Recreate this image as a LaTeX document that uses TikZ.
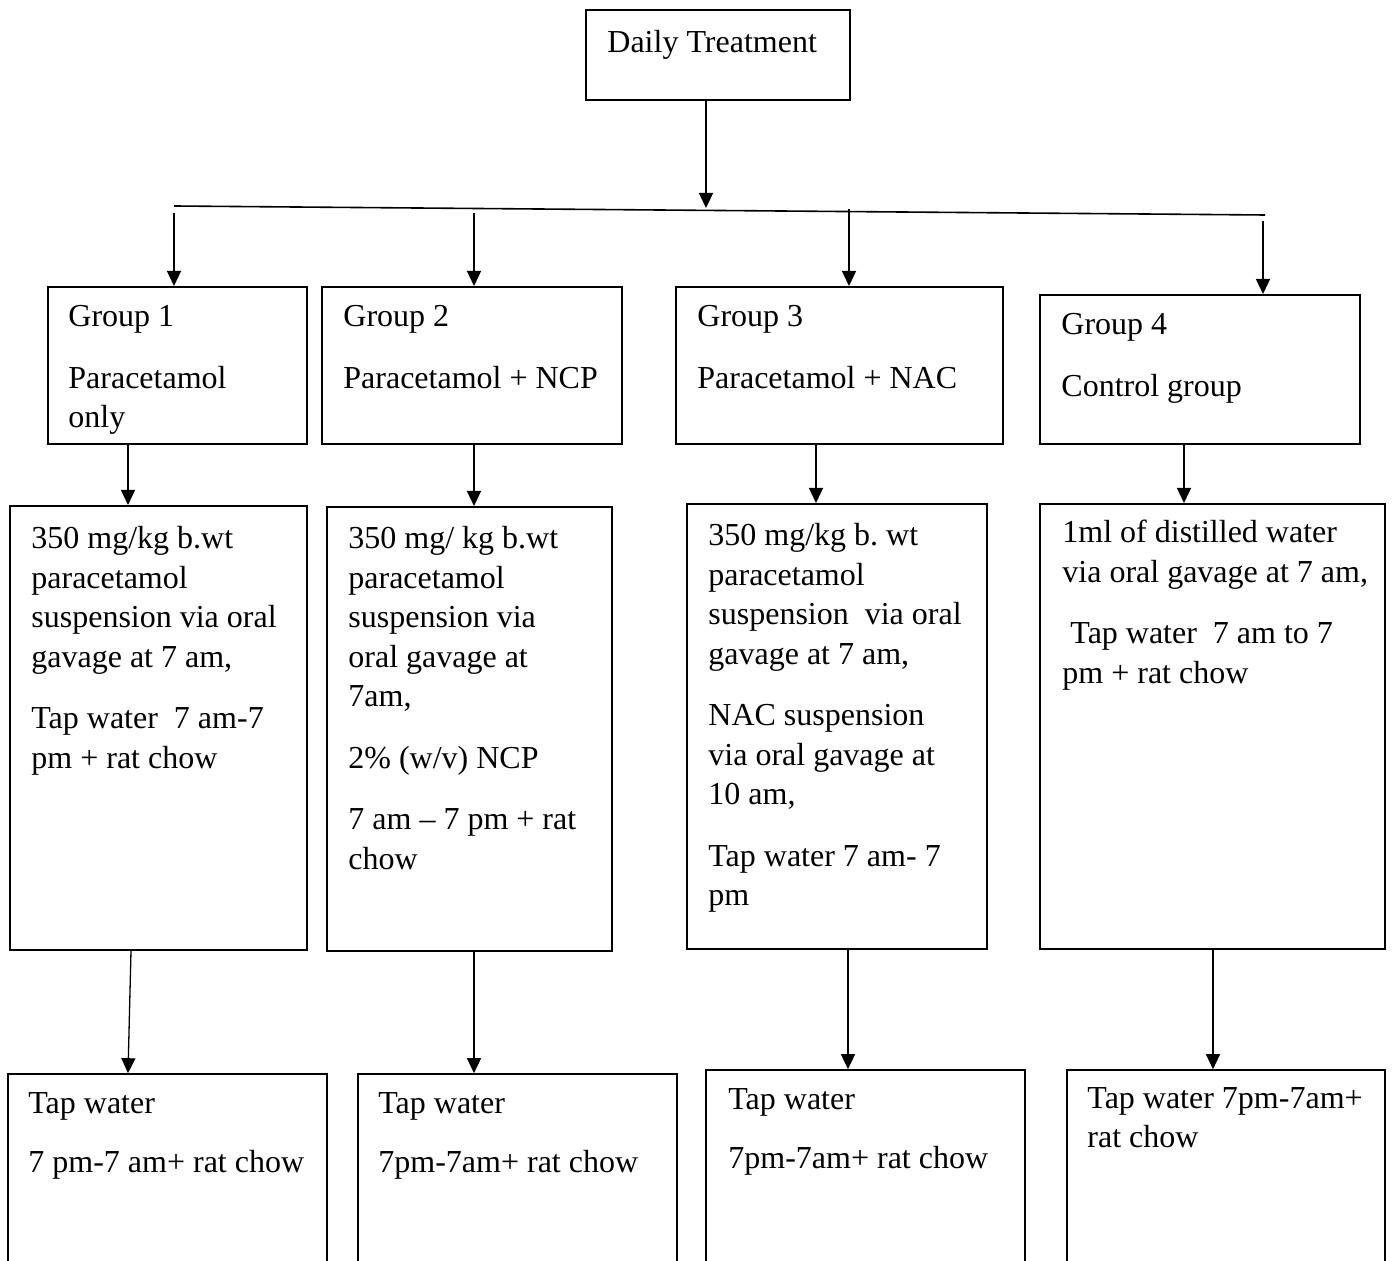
\documentclass[tikz,border=0pt]{standalone}
\usepackage{fontspec}
\setmainfont{Liberation Serif}
\usetikzlibrary{arrows.meta, positioning, fit}
\frenchspacing

\begin{document}
\begin{tikzpicture}[x=0.5pt, y=-0.5pt,
    box/.style={draw, line width=1pt, inner sep=0pt},
    lowbox/.style={draw, line width=0.8pt, inner sep=0pt},
    txt/.style={anchor=north west, inner sep=0pt, align=left,
        font=\fontsize{16pt}{19.75pt}\selectfont},
    arr/.style={-{Triangle[length=7.5pt, width=7pt]}, line width=0.65pt}]
\useasboundingbox (0,0) rectangle (1394,1261);
\clip (0,0) rectangle (1394,1261);

% Top box
\node[box, fit={(586,10) (850,100)}] (daily) {};
\node[txt] (dailytxt) at (607,30) {Daily Treatment};

% Branch line
\coordinate (busL) at (174,206);
\coordinate (busR) at (1265,215);
\coordinate (join) at (706,208);
\draw[line width=0.8pt] (busL) -- (busR);
\draw[arr] (daily.south -| join) -- (join);

% Group boxes
\node[box, fit={(48,287) (307,444)}] (g1) {};
\node[box, fit={(322,287) (622,444)}] (g2) {};
\node[box, fit={(676,287) (1003,444)}] (g3) {};
\node[box, fit={(1040,295) (1360,444)}] (g4) {};
\node[txt] (g1txt) at (68,305) {Group 1\\[11pt]Paracetamol\\only};
\node[txt] (g2txt) at (343,305) {Group 2\\[11pt]Paracetamol + NCP};
\node[txt] (g3txt) at (697,305) {Group 3\\[11pt]Paracetamol + NAC};
\node[txt] (g4txt) at (1061,313) {Group 4\\[11pt]Control group};

\foreach \n/\x/\y in {1/174/213, 2/474/213, 3/849/209, 4/1263/221} {
    \coordinate (s\n) at (\x,\y);
    \draw[arr] (s\n) -- (g\n.north -| s\n);
}

% Treatment boxes
\node[box, fit={(10,506) (307,950)}] (m1) {};
\node[box, fit={(327,507) (612,951)}] (m2) {};
\node[box, fit={(687,504) (987,949)}] (m3) {};
\node[box, fit={(1040,504) (1385,949)}] (m4) {};
\node[txt] (m1txt) at (31,526) {350 mg/kg b.wt\\paracetamol\\suspension via oral\\gavage at 7 am,\\[11pt]
    Tap water\ \ 7 am-7\\pm + rat chow};
\node[txt] (m2txt) at (348,526) {350 mg/ kg b.wt\\paracetamol\\suspension via\\oral gavage at\\7am,\\[11pt]
    2\% (w/v) NCP\\[11pt]7 am -- 7 pm + rat\\chow};
\node[txt] (m3txt) at (708,523) {350 mg/kg b. wt\\paracetamol\\suspension\ \ via oral\\gavage at 7 am,\\[11pt]
    NAC suspension\\via oral gavage at\\10 am,\\[11pt]Tap water 7 am- 7\\pm};
\node[txt] (m4txt) at (1062,520) {1ml of distilled water\\via oral gavage at 7 am,\\[11pt]
    \hspace*{4pt}Tap water\ \ 7 am to 7\\pm + rat chow};

\foreach \n/\x in {1/128, 2/474, 3/816, 4/1184}
    \draw[arr] (g\n.south -| \x,0) -- (m\n.north -| \x,0);

% Night boxes (run past the page edge)
\node[lowbox, fit={(8,1074) (327,1290)}] (b1) {};
\node[lowbox, fit={(358,1074) (677,1290)}] (b2) {};
\node[lowbox, fit={(706,1070) (1025,1290)}] (b3) {};
\node[lowbox, fit={(1067,1070) (1385,1290)}] (b4) {};
\node[txt] (b1txt) at (28,1092) {Tap water\\[10pt]7 pm-7 am+ rat chow};
\node[txt] (b2txt) at (378,1092) {Tap water\\[10pt]7pm-7am+ rat chow};
\node[txt] (b3txt) at (728,1088) {Tap water\\[10pt]7pm-7am+ rat chow};
\node[txt] (b4txt) at (1087,1087) {Tap water 7pm-7am+\\rat chow};

\foreach \n/\xa/\xb in {1/131/128, 2/474/474, 3/848/848, 4/1213/1213}
    \draw[arr] (m\n.south -| \xa,0) -- (b\n.north -| \xb,0);
\end{tikzpicture}
\end{document}
